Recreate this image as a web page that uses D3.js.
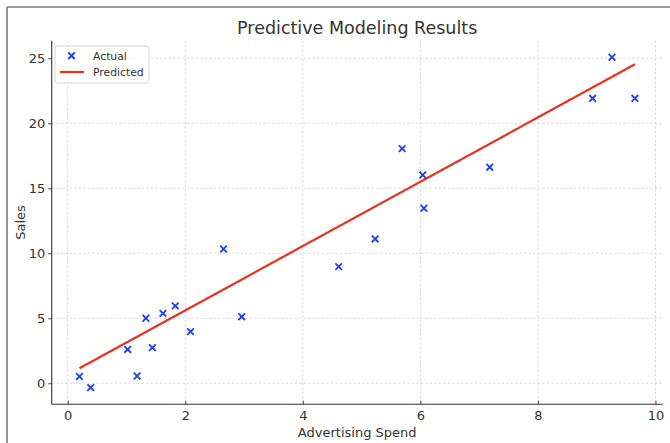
<!DOCTYPE html>
<html>
<head>
<meta charset="utf-8">
<script src="https://cdn.jsdelivr.net/npm/d3@7"></script>
<style>
  html, body { margin: 0; padding: 0; background: #fff; }
  svg { display: block; font-family: "DejaVu Sans", sans-serif; }
</style>
</head>
<body>
<svg id="chart" width="670" height="443"></svg>
<script>
// Observed advertising spend vs. sales
const spend = [0.20, 0.39, 1.02, 1.18, 1.33, 1.44, 1.62, 1.83, 2.09, 2.65,
               2.96, 4.61, 5.23, 5.69, 6.04, 6.06, 7.18, 8.93, 9.26, 9.65];
const sales = [0.52, -0.34, 2.60, 0.56, 5.00, 2.74, 5.38, 5.95, 3.97, 10.33,
               5.12, 8.97, 11.10, 18.05, 16.02, 13.46, 16.62, 21.92, 25.08, 21.92];

// Fitted regression line endpoints
const predictedX = [0.20, 9.65];
const predictedY = [1.15, 24.54];

const xTicks = [0, 2, 4, 6, 8, 10];
const yTicks = [0, 5, 10, 15, 20, 25];

const svg = d3.select("#chart");
const plot = { left: 51.7, right: 662.7, top: 40.7, bottom: 404.2 };

// Outer frame (top and left edges)
svg.append("line").attr("x1", 7).attr("x2", 670).attr("y1", 7).attr("y2", 7)
  .attr("stroke", "#7a7a7a").attr("stroke-width", 1.6);
svg.append("line").attr("x1", 7).attr("x2", 7).attr("y1", 7).attr("y2", 443)
  .attr("stroke", "#7a7a7a").attr("stroke-width", 1.6);

// Autoscale with 5% margins on each side
function padded(values) {
  const [lo, hi] = d3.extent(values);
  const m = (hi - lo) * 0.05;
  return [lo - m, hi + m];
}
const x = d3.scaleLinear().domain(padded(spend)).range([plot.left, plot.right]);
const y = d3.scaleLinear().domain(padded(sales)).range([plot.bottom, plot.top]);

// Grid
const grid = svg.append("g").attr("stroke", "#cfcfcf").attr("stroke-width", 0.8)
  .attr("stroke-dasharray", "2.5,2");
grid.selectAll(".gx").data(xTicks).join("line")
  .attr("x1", d => x(d)).attr("x2", d => x(d))
  .attr("y1", plot.top).attr("y2", plot.bottom);
grid.selectAll(".gy").data(yTicks).join("line")
  .attr("y1", d => y(d)).attr("y2", d => y(d))
  .attr("x1", plot.left).attr("x2", plot.right);

// Axes
const xAxis = svg.append("g").attr("transform", `translate(0,${plot.bottom})`)
  .call(d3.axisBottom(x).tickValues(xTicks).tickFormat(d3.format("d"))
    .tickSizeInner(-3.5).tickSizeOuter(0).tickPadding(7));
const yAxis = svg.append("g").attr("transform", `translate(${plot.left},0)`)
  .call(d3.axisLeft(y).tickValues(yTicks).tickFormat(d3.format("d"))
    .tickSizeInner(3.5).tickSizeOuter(0).tickPadding(3));
[xAxis, yAxis].forEach(a => {
  a.select(".domain").attr("stroke", "#333").attr("stroke-width", 1.1);
  a.selectAll(".tick line").attr("stroke", "#333").attr("stroke-width", 0.9);
  a.selectAll(".tick text").attr("fill", "#333").attr("font-size", 13)
    .attr("font-family", "DejaVu Sans, sans-serif");
});
xAxis.select(".domain").attr("d", `M${plot.left},0H${plot.right}`);
yAxis.select(".domain").attr("d", `M0,${plot.bottom}V${plot.top}`);

// Predicted line
const linePts = predictedX.map((d, i) => [d, predictedY[i]]);
svg.append("path").datum(linePts)
  .attr("fill", "none").attr("stroke", "#f0301e").attr("stroke-width", 2.2)
  .attr("d", d3.line().x(d => x(d[0])).y(d => y(d[1])));

// Actual points as x markers
const pts = spend.map((d, i) => [d, sales[i]]);
const s = 3.3;
svg.append("g").selectAll("path").data(pts).join("path")
  .attr("transform", d => `translate(${x(d[0])},${y(d[1])})`)
  .attr("d", `M${-s},${-s}L${s},${s}M${-s},${s}L${s},${-s}`)
  .attr("stroke", "#1c3cff").attr("stroke-width", 1.8).attr("fill", "none");

// Title and axis labels
svg.append("text").attr("x", (plot.left + plot.right) / 2).attr("y", 34)
  .attr("text-anchor", "middle").attr("font-size", 17.5).attr("fill", "#333")
  .text("Predictive Modeling Results");
svg.append("text").attr("x", (plot.left + plot.right) / 2).attr("y", 437)
  .attr("text-anchor", "middle").attr("font-size", 13).attr("fill", "#333")
  .text("Advertising Spend");
svg.append("text")
  .attr("transform", `translate(25,${(plot.top + plot.bottom) / 2}) rotate(-90)`)
  .attr("text-anchor", "middle").attr("font-size", 13).attr("fill", "#333")
  .text("Sales");

// Legend
const lg = svg.append("g").attr("transform", "translate(55,46)");
lg.append("rect").attr("width", 94).attr("height", 37).attr("rx", 2.5)
  .attr("fill", "#fff").attr("fill-opacity", 0.85)
  .attr("stroke", "#d6d6d6").attr("stroke-width", 1);
lg.append("path").attr("transform", "translate(16.5,9.7)")
  .attr("d", `M${-s},${-s}L${s},${s}M${-s},${s}L${s},${-s}`)
  .attr("stroke", "#1c3cff").attr("stroke-width", 1.8);
lg.append("line").attr("x1", 5).attr("x2", 29).attr("y1", 26).attr("y2", 26)
  .attr("stroke", "#f0301e").attr("stroke-width", 2.2);
const legendLabels = ["Actual", "Predicted"];
lg.selectAll("text.lbl").data(legendLabels).join("text")
  .attr("x", 38).attr("y", (d, i) => 13.5 + i * 16.5)
  .attr("font-size", 10.8).attr("fill", "#333").text(d => d);
</script>
</body>
</html>
